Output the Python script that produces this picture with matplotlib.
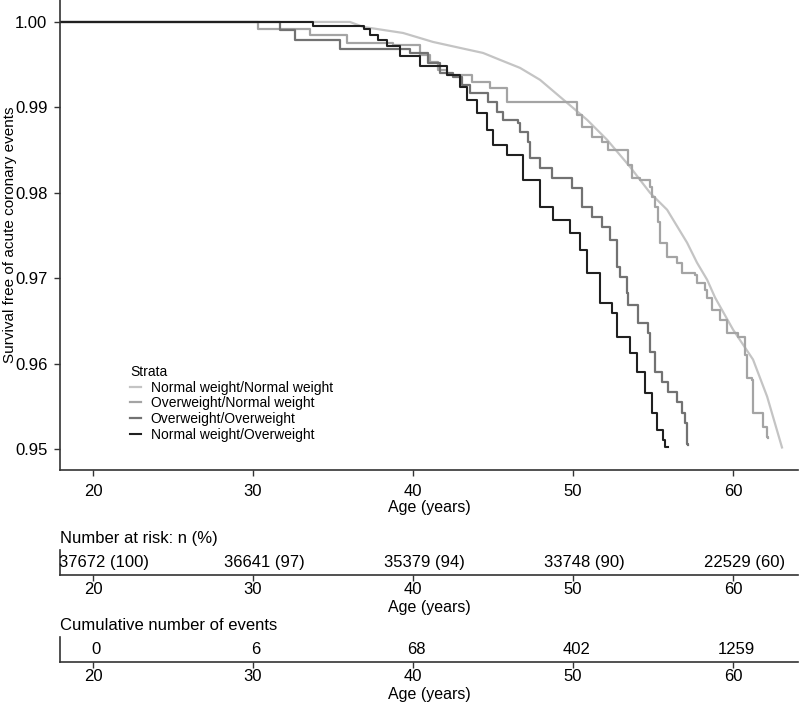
import numpy as np
import matplotlib
matplotlib.use('Agg')
import matplotlib.pyplot as plt

plt.rcParams['font.family'] = ['Liberation Sans', 'DejaVu Sans']

# Kaplan-Meier curves (age in years, survival)
nn_age = [17.9, 36.06, 36.88, 39.38, 41.25, 42.94, 44.38, 45.44, 46.69, 47.94, 49.19,
          50.88, 52.13, 53.56, 54.81, 55.88, 57.13, 57.75, 58.38, 58.88, 60.0, 61.25,
          62.13, 63.06]
nn_surv = [1.0, 1.0, 0.99942, 0.99871, 0.99766, 0.99696, 0.99637, 0.99556, 0.99462,
           0.99322, 0.99123, 0.98854, 0.98620, 0.98304, 0.98000, 0.97801, 0.97415,
           0.97181, 0.96982, 0.96772, 0.96398, 0.96047, 0.95614, 0.95018]

on_age = [17.9, 30.31, 33.56, 35.88, 38.75, 40.44, 41.06, 41.56, 42.13, 43.69, 44.81,
          45.88, 50.25, 50.56, 51.19, 51.81, 52.19, 53.44, 53.69, 54.19, 54.81, 54.94,
          55.13, 55.31, 55.44, 55.88, 56.5, 56.81, 57.63, 57.75, 58.25, 58.38, 58.69,
          59.19, 59.63, 60.31, 60.75, 60.88, 61.19, 61.25, 61.88, 62.13, 62.19]
on_surv = [1.0, 0.99918, 0.99848, 0.99754, 0.99731, 0.99614, 0.99532, 0.99439, 0.99380,
           0.99298, 0.99228, 0.99064, 0.98912, 0.98772, 0.98655, 0.98596, 0.98503,
           0.98327, 0.98175, 0.98152, 0.98070, 0.97953, 0.97836, 0.97661, 0.97415,
           0.97251, 0.97181, 0.97064, 0.97041, 0.96947, 0.96865, 0.96772, 0.96632,
           0.96515, 0.96363, 0.96316, 0.96105, 0.95836, 0.95813, 0.95427, 0.95263,
           0.95135, 0.95123]

oo_age = [17.9, 31.69, 32.63, 35.44, 39.81, 40.94, 41.69, 42.5, 43.06, 43.56, 44.69,
          45.25, 45.63, 46.56, 46.69, 47.19, 47.31, 47.94, 48.69, 49.94, 50.56, 51.19,
          51.81, 52.31, 52.75, 52.94, 53.38, 53.44, 54.06, 54.69, 54.81, 55.13, 55.56,
          55.94, 56.5, 56.81, 57.0, 57.13, 57.19]
oo_surv = [1.0, 0.99906, 0.99789, 0.99684, 0.99637, 0.99520, 0.99404, 0.99357, 0.99263,
           0.99170, 0.99064, 0.98947, 0.98854, 0.98819, 0.98713, 0.98596, 0.98409,
           0.98292, 0.98175, 0.98058, 0.97836, 0.97719, 0.97602, 0.97450, 0.97135,
           0.97018, 0.96830, 0.96690, 0.96480, 0.96363, 0.96140, 0.95906, 0.95789,
           0.95673, 0.95556, 0.95427, 0.95310, 0.95053, 0.95041]

no_age = [17.9, 33.75, 36.94, 37.31, 37.81, 38.38, 39.19, 40.44, 42.13, 42.94, 43.38,
          44.0, 44.63, 45.0, 45.88, 46.88, 47.94, 48.75, 49.81, 50.44, 50.88, 51.69,
          52.44, 52.75, 53.56, 54.0, 54.5, 54.94, 55.25, 55.63, 55.75, 55.94]
no_surv = [1.0, 0.99953, 0.99918, 0.99848, 0.99789, 0.99719, 0.99602, 0.99485, 0.99380,
           0.99240, 0.99088, 0.98936, 0.98737, 0.98561, 0.98444, 0.98152, 0.97836,
           0.97684, 0.97532, 0.97333, 0.97064, 0.96713, 0.96596, 0.96316, 0.96129,
           0.95906, 0.95661, 0.95427, 0.95228, 0.95111, 0.95018, 0.95018]

strata = ['Normal weight/Normal weight', 'Overweight/Normal weight',
          'Overweight/Overweight', 'Normal weight/Overweight']
colors = ['#c4c4c4', '#a4a4a4', '#727272', '#202020']

table_ages = [20, 30, 40, 50, 60]
at_risk = ['37672 (100)', '36641 (97)', '35379 (94)', '33748 (90)', '22529 (60)']
cum_events = ['0', '6', '68', '402', '1259']

W, H = 800, 702
fig = plt.figure(figsize=(W / 100, H / 100), dpi=100)


def px_axes(x0, y0, x1, y1):
    # pixel box (top-left origin) -> figure axes
    return fig.add_axes([x0 / W, 1 - y1 / H, (x1 - x0) / W, (y1 - y0) / H])


spine_col = '#333333'
xlim = (17.94, 64.06)

ax = px_axes(60, 0, 798, 470)
ax.plot(nn_age, nn_surv, color=colors[0], lw=1.6, label=strata[0])
ax.step(on_age, on_surv, where='post', color=colors[1], lw=1.6, label=strata[1])
ax.step(oo_age, oo_surv, where='post', color=colors[2], lw=1.6, label=strata[2])
ax.step(no_age, no_surv, where='post', color=colors[3], lw=1.5, label=strata[3])
ax.set_xlim(*xlim)
ax.set_ylim(0.94754, 1.00257)
ax.set_xticks(table_ages)
ax.set_yticks([0.95, 0.96, 0.97, 0.98, 0.99, 1.00])
ax.set_yticklabels(['0.95', '0.96', '0.97', '0.98', '0.99', '1.00'])
ax.set_xlabel('Age (years)', fontsize=11.5, labelpad=1)
ax.set_ylabel('Survival free of acute coronary events', fontsize=11)
ax.yaxis.set_label_coords(-43 / 738, 0.5)
ax.tick_params(labelsize=12, length=4, width=1, color=spine_col, pad=6)
ax.tick_params(axis='y', pad=5)
for s in ['top', 'right']:
    ax.spines[s].set_visible(False)
for s in ['left', 'bottom']:
    ax.spines[s].set_color(spine_col)
    ax.spines[s].set_linewidth(1.2)

leg = ax.legend(loc='upper left', bbox_to_anchor=(63 / 738, 1 - 358 / 470), frameon=False,
                title='Strata', fontsize=10, title_fontsize=10, handlelength=0.8,
                handletextpad=0.7, labelspacing=0.12, borderpad=0)
leg._legend_box.align = 'left'

# risk tables
tables = [
    (550, 575, 'Number at risk: n (%)', at_risk, 0.7),
    (637, 662, 'Cumulative number of events', cum_events, 0.2),
]
for y0, y1, title, labels, shift in tables:
    tax = px_axes(60, y0, 798, y1)
    tax.set_xlim(*xlim)
    tax.set_ylim(0, 1)
    tax.set_yticks([])
    tax.set_xticks(table_ages)
    tax.tick_params(labelsize=12, length=4, width=1, color=spine_col, pad=1)
    tax.set_xlabel('Age (years)', fontsize=11.5, labelpad=2)
    for s in ['top', 'right']:
        tax.spines[s].set_visible(False)
    for s in ['left', 'bottom']:
        tax.spines[s].set_color(spine_col)
        tax.spines[s].set_linewidth(1.2)
    for a, lab in zip(table_ages, labels):
        tax.text(a + shift, 0.5, lab, ha='center', va='center', fontsize=12)
    tax.text(0, 1.45, title, transform=tax.transAxes, ha='left', va='center', fontsize=12)

fig.savefig('out.png', dpi=100)
